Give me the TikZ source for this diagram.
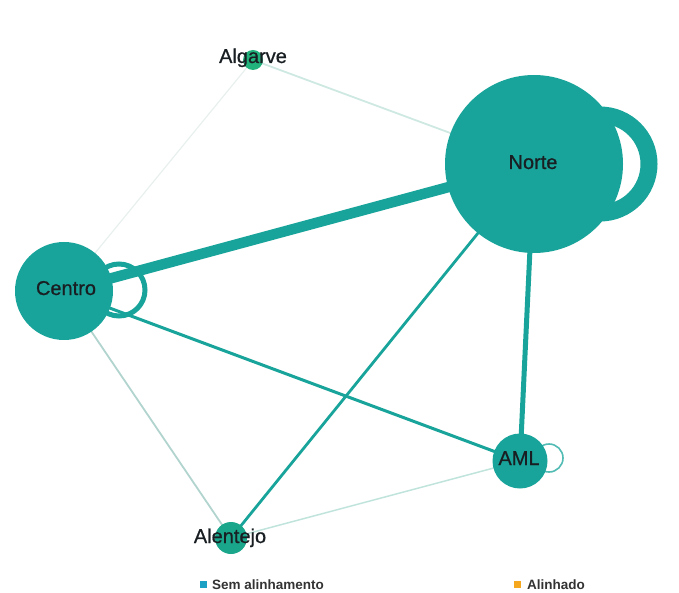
\documentclass[tikz,border=0pt]{standalone}
\usepackage{fontspec}
\setmainfont{Liberation Sans}
\newfontfamily\lblfont{Liberation Sans}[FakeBold=0.7]
\usetikzlibrary{backgrounds}
\definecolor{tealA}{RGB}{24,164,154}
\definecolor{greenAlg}{RGB}{34,178,124}
\definecolor{greenAlt}{RGB}{26,166,138}
\definecolor{faintA}{RGB}{178,212,206}
\definecolor{faintB}{RGB}{192,228,220}
\definecolor{faintC}{RGB}{206,232,226}
\definecolor{faintD}{RGB}{232,240,238}
\definecolor{lbltext}{RGB}{24,30,34}
\definecolor{legblue}{RGB}{28,160,196}
\definecolor{legorange}{RGB}{245,168,30}
\begin{document}
\begin{tikzpicture}[x=1pt,y=-1pt,
  vert/.style={circle, fill=tealA, draw=none, inner sep=0pt},
  lbl/.style={anchor=base, inner sep=0pt, text=lbltext, font=\lblfont\fontsize{20}{24}\selectfont},
  legtxt/.style={anchor=base west, inner sep=0pt, text=black!80, font=\fontsize{13.5}{15}\selectfont\bfseries},
  edge/.style={tealA, line cap=butt}]
\useasboundingbox (0,0) rectangle (679,593);
\clip (0,0) rectangle (679,593);
% nodes
\node[vert, minimum size=178pt] (norte) at (534,164) {};
\node[vert, minimum size=98pt] (centro) at (64,291) {};
\node[vert, minimum size=55pt] (aml) at (520,461) {};
\node[vert, fill=greenAlg, minimum size=20pt] (algarve) at (253,60) {};
\node[vert, fill=greenAlt, minimum size=32pt] (alentejo) at (231,538) {};
% labels
\node[lbl] (nortel) at (533,169) {Norte};
\node[lbl] (centrol) at (66,295) {Centro};
\node[lbl] (amll) at (519,465) {AML};
\node[lbl] (algarvel) at (253,63) {Algarve};
\node[lbl] (alentejol) at (230,543) {Alentejo};
% edges and loops
\begin{scope}[on background layer]
  \draw[faintD, line width=1.2pt] (algarve.center) -- (centro.center);
  \draw[faintC, line width=1.8pt] (algarve.center) -- (norte.center);
  \draw[faintA, line width=1.8pt] (centro.center) -- (alentejo.center);
  \draw[faintB, line width=1.5pt] (aml.center) -- (alentejo.center);
  \draw[edge, line width=2.8pt] (norte.center) -- (alentejo.center);
  \draw[edge, line width=3pt] (centro.center) -- (aml.center);
  \draw[edge, line width=5pt] (norte.center) -- (aml.center);
  \draw[edge, line width=10.5pt] (centro.center) -- (norte.center);
  \draw[tealA, line width=17pt] (norte.center) ++(66,0) circle[radius=49pt];
  \draw[tealA, line width=5pt] (centro.center) ++(55,-1) circle[radius=26pt];
  \draw[tealA!75, line width=1.6pt] (aml.center) ++(29,-3) circle[radius=14pt];
\end{scope}
% legend
\node[fill=legblue, minimum size=7pt, inner sep=0pt] (legb) at (203.5,584.5) {};
\node[legtxt] (legbt) at (212,589) {Sem alinhamento};
\node[fill=legorange, minimum size=7pt, inner sep=0pt] (lego) at (517.5,584.5) {};
\node[legtxt] (legot) at (527,589) {Alinhado};
\end{tikzpicture}
\end{document}
